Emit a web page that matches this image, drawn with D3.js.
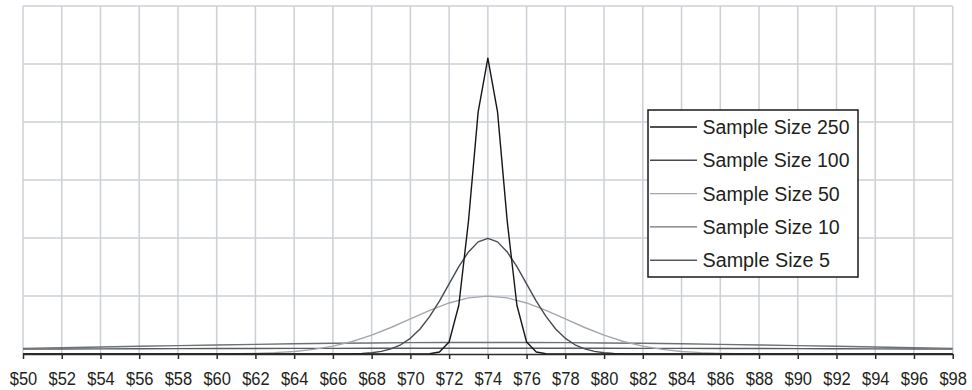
<!DOCTYPE html>
<html>
<head>
<meta charset="utf-8">
<script src="https://cdn.jsdelivr.net/npm/d3@7/dist/d3.min.js"></script>
<style>
  body { margin: 0; background: #fff; }
  svg { display: block; }
  text { font-family: "Liberation Sans", Arial, sans-serif; fill: #231f20; }
</style>
</head>
<body>
<script>
// tick labels under the axis
var tickValues = [50, 52, 54, 56, 58, 60, 62, 64, 66, 68, 70, 72, 74, 76, 78, 80, 82, 84, 86, 88, 90, 92, 94, 96, 98];

// price points each series is read at (narrow curves need closer points)
var prices250 = [50, 70.5, 71, 71.5, 72, 72.5, 73, 73.5, 74, 74.5, 75, 75.5, 76, 76.5, 77, 77.5, 98];
var prices100 = [50, 66, 66.5, 67, 67.5, 68, 68.5, 69, 69.5, 70, 70.5, 71, 71.5, 72, 72.5, 73, 73.5, 74,
                 74.5, 75, 75.5, 76, 76.5, 77, 77.5, 78, 78.5, 79, 79.5, 80, 80.5, 81, 81.5, 82, 98];
var prices50 = [50, 58, 59, 60, 61, 62, 63, 64, 65, 66, 67, 68, 69, 70, 71, 72, 73, 74,
                75, 76, 77, 78, 79, 80, 81, 82, 83, 84, 85, 86, 87, 88, 89, 90, 98];
var pricesWide = [50, 52, 54, 56, 58, 60, 62, 64, 66, 68, 70, 72, 74, 76, 78, 80, 82, 84, 86, 88, 90, 92, 94, 96, 98];

// series values, one per price point
var size250 = [0, 0, 0.0004, 0.0034, 0.0207, 0.0840, 0.2290, 0.4174, 0.5100,
               0.4174, 0.2290, 0.0840, 0.0207, 0.0034, 0.0004, 0, 0];
var size100 = [0, 0.0001, 0.0002, 0.0004, 0.0010, 0.0022, 0.0045, 0.0088, 0.0159, 0.0270, 0.0431, 0.0648, 0.0913, 0.1210, 0.1506, 0.1760, 0.1933, 0.1995,
               0.1933, 0.1760, 0.1506, 0.1210, 0.0913, 0.0648, 0.0431, 0.0270, 0.0159, 0.0088, 0.0045, 0.0022, 0.0010, 0.0004, 0.0002, 0.0001, 0];
var size50 = [0, 0, 0.0001, 0.0002, 0.0005, 0.0011, 0.0023, 0.0044, 0.0079, 0.0135, 0.0216, 0.0324, 0.0457, 0.0605, 0.0753, 0.0880, 0.0967, 0.0997,
              0.0967, 0.0880, 0.0753, 0.0605, 0.0457, 0.0324, 0.0216, 0.0135, 0.0079, 0.0044, 0.0023, 0.0011, 0.0005, 0.0002, 0.0001, 0, 0];
var size10 = [0.00971, 0.01089, 0.01210, 0.01330, 0.01448, 0.01561, 0.01666, 0.01760, 0.01841, 0.01907, 0.01955, 0.01985, 0.01995,
              0.01985, 0.01955, 0.01907, 0.01841, 0.01760, 0.01666, 0.01561, 0.01448, 0.01330, 0.01210, 0.01089, 0.00971];
var size5 = [0.00833, 0.00857, 0.00880, 0.00901, 0.00921, 0.00938, 0.00954, 0.00967, 0.00978, 0.00986, 0.00992, 0.00996, 0.00997,
             0.00996, 0.00992, 0.00986, 0.00978, 0.00967, 0.00954, 0.00938, 0.00921, 0.00901, 0.00880, 0.00857, 0.00833];

var seriesNames = ["Sample Size 250", "Sample Size 100", "Sample Size 50", "Sample Size 10", "Sample Size 5"];
var seriesColors = ["#161616", "#464b51", "#a4a8ad", "#6c7177", "#565b61"];
var series = [
  {x: prices250, y: size250, color: seriesColors[0]},
  {x: prices100, y: size100, color: seriesColors[1]},
  {x: prices50, y: size50, color: seriesColors[2]},
  {x: pricesWide, y: size10, color: seriesColors[3]},
  {x: pricesWide, y: size5, color: seriesColors[4]}
];

// size of the page and the plot area
var W = 972, H = 390;
var margin = {top: 6, right: 19.3, bottom: 36, left: 23},
    width = W - margin.left - margin.right,
    height = H - margin.top - margin.bottom;

var svg = d3.select("body").append("svg")
    .attr("width", W)
    .attr("height", H);

var g = svg.append("g")
    .attr("transform", "translate(" + margin.left + "," + margin.top + ")");

// scales
var x = d3.scaleLinear().domain([50, 98]).range([0, width]);
var y = d3.scaleLinear().domain([0, 0.6]).range([height, 0]);

// grid lines
g.append("g")
    .selectAll("line")
    .data(tickValues)
  .enter().append("line")
    .attr("x1", function(d) { return x(d); })
    .attr("x2", function(d) { return x(d); })
    .attr("y1", 0)
    .attr("y2", height)
    .attr("stroke", "#ccd0d6")
    .attr("stroke-width", 1.5);

g.append("g")
    .selectAll("line")
    .data(y.ticks(6).filter(function(d) { return d > 0; }))
  .enter().append("line")
    .attr("x1", 0)
    .attr("x2", width)
    .attr("y1", function(d) { return y(d); })
    .attr("y2", function(d) { return y(d); })
    .attr("stroke", "#ccd0d6")
    .attr("stroke-width", 1.5);

// the curves, widest drawn first so the tall one sits on top
g.selectAll(".curve")
    .data(series.slice().reverse())
  .enter().append("path")
    .attr("class", "curve")
    .attr("fill", "none")
    .attr("stroke", function(d) { return d.color; })
    .attr("stroke-width", 1.4)
    .attr("stroke-linejoin", "round")
    .attr("d", function(s) {
      return d3.line()
          .x(function(v, i) { return x(s.x[i]); })
          .y(function(v) { return y(v); })(s.y);
    });

// x axis
var xAxis = g.append("g")
    .attr("transform", "translate(0," + height + ")")
    .call(d3.axisBottom(x)
        .tickValues(tickValues)
        .tickSize(5)
        .tickSizeOuter(0)
        .tickPadding(14)
        .tickFormat(function(d) { return "$" + d; }));

xAxis.select(".domain").attr("stroke", "#2a2a2a").attr("stroke-width", 1.5);
xAxis.selectAll(".tick line").attr("stroke", "#2a2a2a").attr("stroke-width", 1.5);
xAxis.selectAll(".tick text")
    .attr("font-family", "'Liberation Sans', Arial, sans-serif")
    .attr("font-size", 17.5)
    .attr("fill", "#231f20")
    .attr("textLength", 27.5)
    .attr("lengthAdjust", "spacingAndGlyphs");

// legend
var legend = svg.append("g").attr("transform", "translate(648,110)");

legend.append("rect")
    .attr("width", 210)
    .attr("height", 167)
    .attr("fill", "#fff")
    .attr("stroke", "#1a1a1a")
    .attr("stroke-width", 1.5);

var item = legend.selectAll(".item")
    .data(seriesNames)
  .enter().append("g")
    .attr("class", "item")
    .attr("transform", function(d, i) { return "translate(0," + (17 + i * 33.3) + ")"; });

item.append("line")
    .attr("x1", 2)
    .attr("x2", 49)
    .attr("stroke", function(d, i) { return seriesColors[i]; })
    .attr("stroke-width", 1.4);

item.append("text")
    .attr("x", 54.5)
    .attr("y", 7)
    .attr("font-size", 20)
    .attr("textLength", function(d) { return d.length * 9.8; })
    .attr("lengthAdjust", "spacingAndGlyphs")
    .text(function(d) { return d; });
</script>
</body>
</html>
